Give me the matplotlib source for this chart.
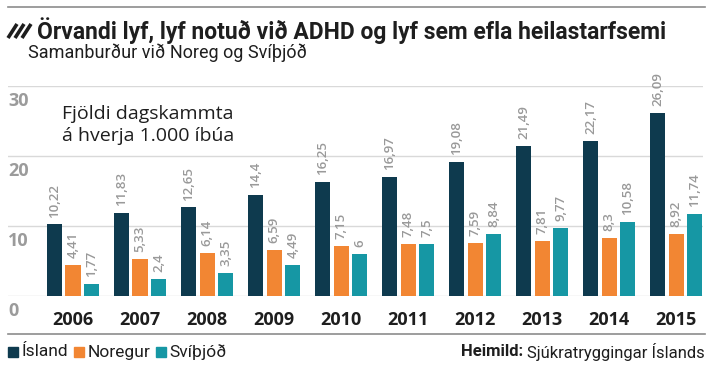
import matplotlib
matplotlib.use("Agg")
import matplotlib.pyplot as plt
from matplotlib.lines import Line2D
from matplotlib.patches import Rectangle

years = ['2006', '2007', '2008', '2009', '2010', '2011', '2012', '2013', '2014', '2015']
island = [10.22, 11.83, 12.65, 14.4, 16.25, 16.97, 19.08, 21.49, 22.17, 26.09]
noregur = [4.41, 5.33, 6.14, 6.59, 7.15, 7.48, 7.59, 7.81, 8.3, 8.92]
svithjod = [1.77, 2.4, 3.35, 4.49, 6, 7.5, 8.84, 9.77, 10.58, 11.74]
series_names = ['Ísland', 'Noregur', 'Svíþjóð']
colors = ['#0e3a4e', '#f28633', '#1697a4']
yticks = [0, 10, 20, 30]

narrow = 'Roboto'
plain = 'Open Sans'
dark = '#1e1e1e'

W, H = 713, 368
fig = plt.figure(figsize=(W / 100, H / 100), dpi=100)

def fx(px):
    return px / W

def fy(py):
    return 1 - py / H

ax = fig.add_axes([fx(8), fy(296), fx(703) - fx(8), fy(86) - fy(296)])
ax.set_xlim(-0.97, 9.40)
ax.set_ylim(0, 30)
for s in ax.spines.values():
    s.set_visible(False)
ax.set_xticks([])
ax.set_yticks([])
for v in yticks:
    ax.axhline(v, color='#d9d9d9', lw=1, zorder=0)
    ax.annotate(str(v), (0, v), xycoords=ax.get_yaxis_transform(),
                xytext=(0, -4), textcoords='offset points', ha='left', va='top',
                fontsize=13, fontweight='bold', color='#9b9b9b', family=plain)

bw = 0.225
offs = [-0.28, 0, 0.28]
for k, vals in enumerate([island, noregur, svithjod]):
    xs = [i + offs[k] for i in range(len(years))]
    ax.bar(xs, vals, width=bw, color=colors[k], zorder=2)
    for x, v in zip(xs, vals):
        lab = ('%g' % v).replace('.', ',')
        ax.annotate(lab, (x, v), xytext=(0, 5), textcoords='offset points',
                    rotation=90, ha='center', va='bottom', fontsize=9.5,
                    fontweight='semibold', color='#999999', family=plain,
                    annotation_clip=False)

for i, y in enumerate(years):
    ax.annotate(y, (i, 0), xytext=(0, -17), textcoords='offset points',
                ha='center', va='center', fontsize=13, fontweight='bold',
                color=dark, family=plain, annotation_clip=False)

fig.text(fx(62), fy(125), 'Fjöldi dagskammta\ná hverja 1.000 íbúa', ha='left',
         va='center', fontsize=14, color=dark, family=plain, linespacing=1.25)

# top and bottom rules
fig.add_artist(Line2D([fx(8), fx(705)], [fy(7), fy(7)], color='#8c8c8c', lw=1.2))
fig.add_artist(Line2D([fx(8), fx(705)], [fy(334), fy(334)], color='#8c8c8c', lw=1.2))

# hatch icon
for d in [0, 7, 14]:
    fig.add_artist(Line2D([fx(8 + d), fx(17 + d)], [fy(38), fy(24)],
                          color=dark, lw=2.6, solid_capstyle='butt'))

fig.text(fx(37), fy(31), 'Örvandi lyf, lyf notuð við ADHD og lyf sem efla heilastarfsemi',
         ha='left', va='center', fontsize=16.5, fontweight='bold', color=dark,
         family=narrow)
fig.text(fx(28), fy(53), 'Samanburður við Noreg og Svíþjóð', ha='left', va='center',
         fontsize=13, color=dark, family=narrow)

# legend
x = 8
for name, c in zip(series_names, colors):
    fig.add_artist(Rectangle((fx(x), fy(357)), fx(10), fy(347) - fy(357),
                             color=c, transform=fig.transFigure))
    t = fig.text(fx(x + 14), fy(352), name, ha='left', va='center', fontsize=12.5,
                 color=dark, family=narrow)
    fig.canvas.draw()
    bb = t.get_window_extent()
    x = bb.x1 + 5

src = fig.text(fx(705), fy(352), 'Sjúkratryggingar Íslands', ha='right', va='center',
               fontsize=12, color=dark, family=narrow)
fig.canvas.draw()
bb = src.get_window_extent()
fig.text(fx(bb.x0 - 4), fy(352), 'Heimild:', ha='right', va='center', fontsize=12,
         fontweight='bold', color=dark, family=narrow)

fig.savefig('out.png', dpi=100)
